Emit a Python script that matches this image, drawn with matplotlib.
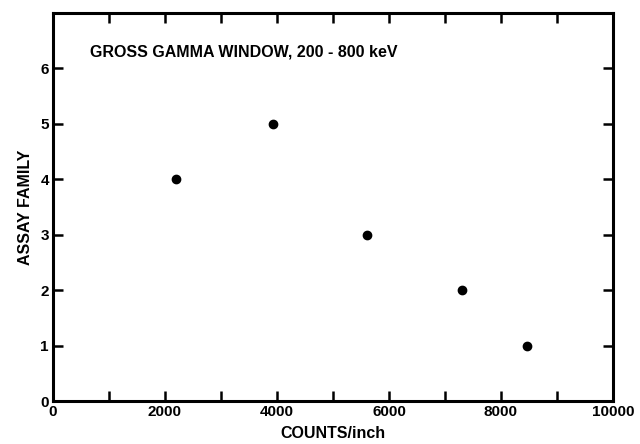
import matplotlib
matplotlib.use('Agg')
import matplotlib.pyplot as plt

plt.rcParams['font.family'] = ['Liberation Sans', 'DejaVu Sans']
plt.rcParams['font.weight'] = 'bold'

# data
counts = [2200, 3920, 5600, 7300, 8470]
family = [4, 5, 3, 2, 1]

xticks = [0, 2000, 4000, 6000, 8000, 10000]
yticks = [0, 1, 2, 3, 4, 5, 6]

fig = plt.figure(figsize=(6.4, 4.44), dpi=100)
ax = fig.add_axes([53/640, 1 - 401/444, 560/640, 388/444])

ax.plot(counts, family, 'o', color='black', markersize=6)

ax.set_xlim(0, 10000)
ax.set_ylim(0, 7)
ax.set_xticks(xticks)
ax.set_xticks(range(1000, 10000, 2000), minor=True)
ax.set_yticks(yticks)
ax.tick_params(which='both', direction='in', top=True, right=True,
               width=1.8, length=7, labelsize=11, pad=3)
for s in ax.spines.values():
    s.set_linewidth(2.2)

ax.text(660, 6.3, 'GROSS GAMMA WINDOW, 200 - 800 keV', fontsize=11.5,
        fontweight='bold', va='center')
ax.set_xlabel('COUNTS/inch', fontsize=11.5, fontweight='bold', labelpad=5)
ax.set_ylabel('ASSAY FAMILY', fontsize=11.5, fontweight='bold', labelpad=5)

fig.savefig('out.png', dpi=100)
